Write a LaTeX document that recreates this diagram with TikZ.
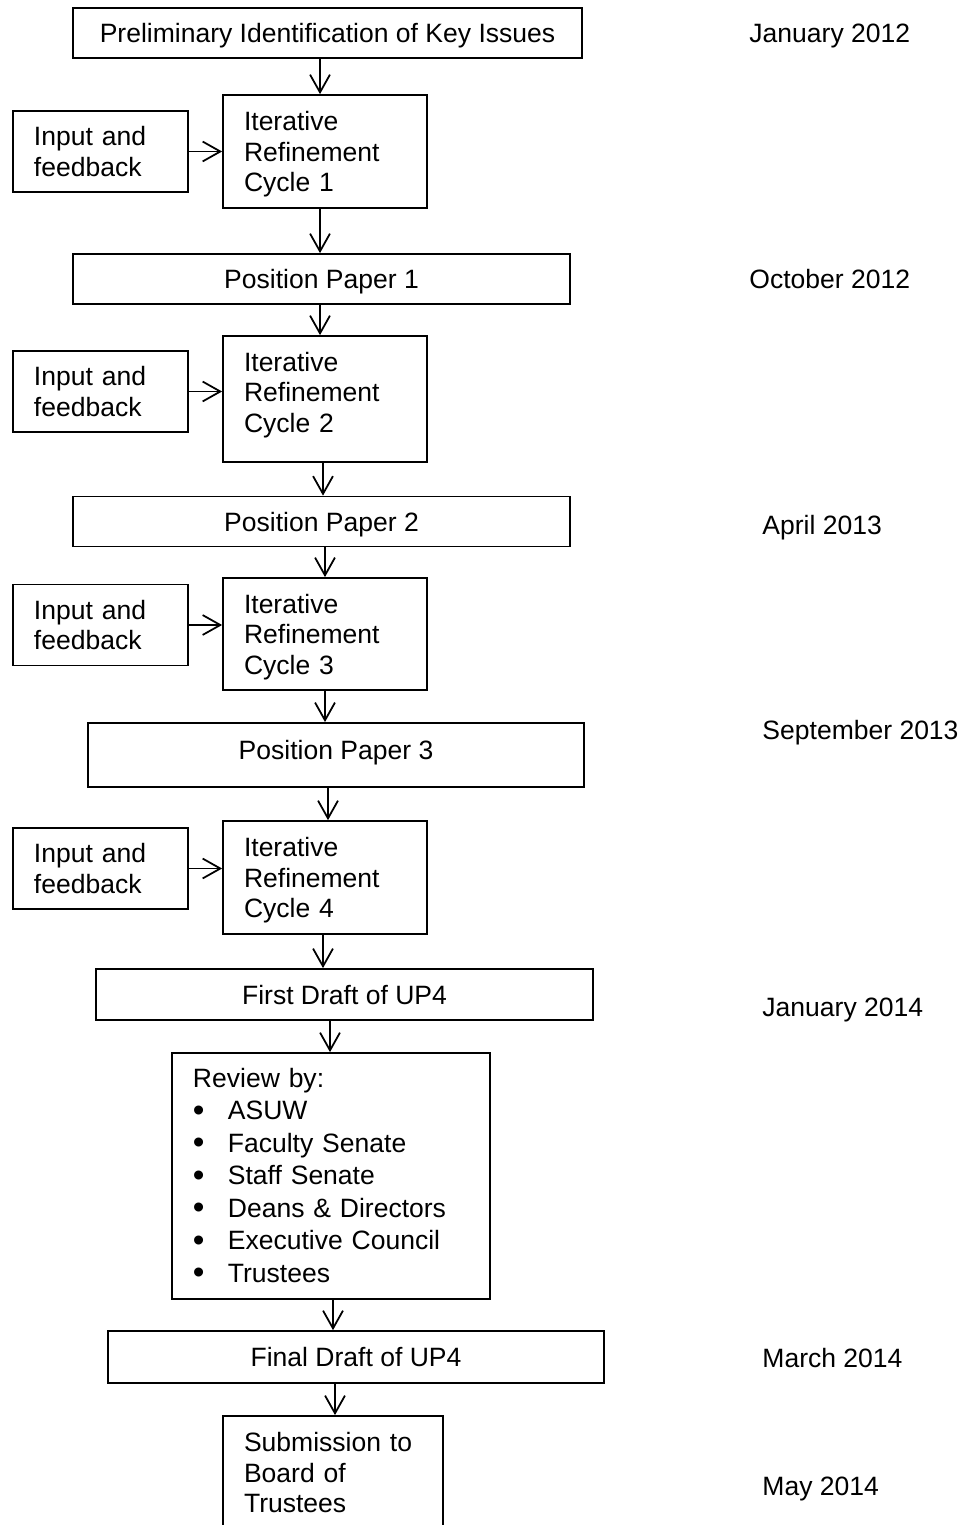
\documentclass[tikz,border=0pt]{standalone}
\usepackage{fontspec}
\setmainfont{Liberation Sans}
\usetikzlibrary{arrows.meta}

\newcommand{\reviewitem}[1]{\makebox[15.8pt][l]{\raisebox{-0.6pt}{\fontsize{15}{14.7}\selectfont\textbullet}}#1}

\begin{document}
\begin{tikzpicture}[x=0.4525pt, y=-0.4525pt,
    box/.style={draw, line width=0.8pt, rectangle, inner sep=0pt, font=\fontsize{12}{13.8}\selectfont},
    paper/.style={box, text depth=0pt, minimum width=224.9pt, minimum height=22.6pt},
    sidebox/.style={box, text width=60.2pt, inner xsep=9.5pt, minimum height=36.7pt, align=left},
    iterbox/.style={box, text width=73.3pt, inner xsep=9.5pt, align=left},
    when/.style={anchor=west, inner sep=0pt, text depth=0pt, font=\fontsize{12}{13.8}\selectfont},
    arr/.style={line width=0.8pt, -{Straight Barb[length=8pt,width=9pt]}}]

    \useasboundingbox (0,0) rectangle (972,1525);

    \node[paper, minimum width=230.3pt] (prelim) at (327.5,33) {Preliminary Identification of Key Issues};

    % input and refinement cycles
    \foreach \n/\i/\yin/\yit/\h/\d in {A/1/151.5/151.5/51.1pt/27.6pt, B/2/391.5/399/57pt/34pt,
                                      C/3/625/634/50.7pt/27.6pt, D/4/868.5/877.5/51.1pt/27.6pt} {
        \node[sidebox] (in\n) at (100.5,\yin) {Input and\\feedback};
        \node[iterbox, minimum height=\h, text depth=\d] (it\n) at (325,\yit) {Iterative\\Refinement\\Cycle \i};
        \draw[arr] (in\n.east) -- (in\n.east -| it\n.west);
    }

    \node[paper] (ppA) at (321.5,279) {Position Paper 1};
    \node[paper] (ppB) at (321.5,521.5) {Position Paper 2};
    \node[paper, minimum width=224.4pt, minimum height=29pt, text depth=4.6pt] (ppC) at (336,755) {Position Paper 3};
    \node[paper, minimum height=23.1pt] (draftA) at (344.5,994.5) {First Draft of UP4};

    \node[box, text width=124.9pt, inner xsep=9.5pt, minimum height=111.3pt, align=left,
          font=\fontsize{12}{14.7}\selectfont] (review) at (331,1176)
        {Review by:\\
         \reviewitem{ASUW}\\
         \reviewitem{Faculty Senate}\\
         \reviewitem{Staff Senate}\\
         \reviewitem{Deans \& Directors}\\
         \reviewitem{Executive Council}\\
         \reviewitem{Trustees}};

    \node[paper, minimum width=224.4pt, minimum height=23.5pt] (draftB) at (356,1357) {Final Draft of UP4};
    \node[box, text width=80.5pt, inner xsep=9.5pt, minimum height=51.6pt, align=left] (submit) at (333,1473)
        {Submission to\\Board of\\Trustees};

    % vertical flow
    \foreach \a/\b/\x in {prelim/itA/320, itA/ppA/320, ppA/itB/320, itB/ppB/323, ppB/itC/325,
                          itC/ppC/325, ppC/itD/328, itD/draftA/323, draftA/review/330,
                          review/draftB/333, draftB/submit/335} {
        \draw[arr] (\a.south -| \x,0) -- (\b.north -| \x,0);
    }

    % dates
    \node[when] (tA) at (749,33) {January 2012};
    \node[when] (tB) at (749,279) {October 2012};
    \node[when] (tC) at (762,525) {April 2013};
    \node[when] (tD) at (762,730) {September 2013};
    \node[when] (tE) at (762,1007) {January 2014};
    \node[when] (tF) at (762,1358) {March 2014};
    \node[when] (tG) at (762,1486) {May 2014};
\end{tikzpicture}
\end{document}
